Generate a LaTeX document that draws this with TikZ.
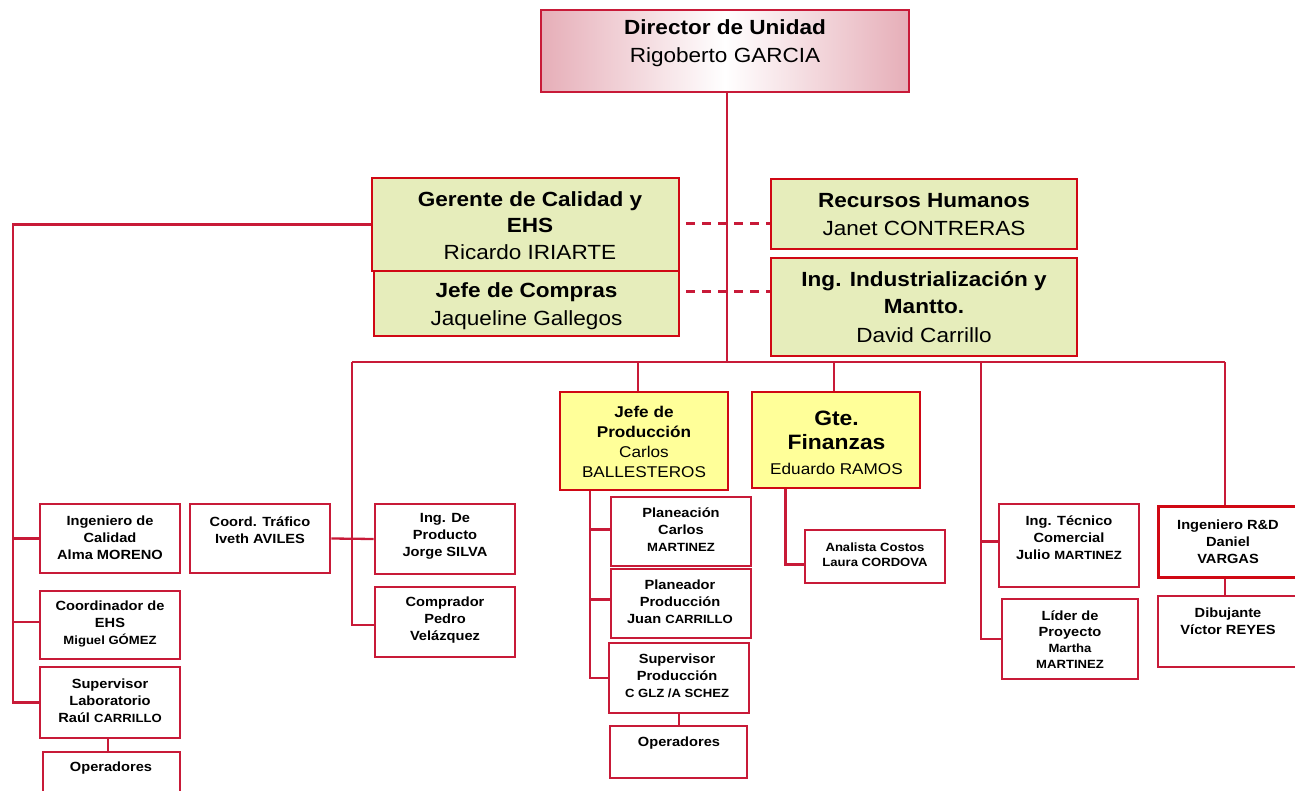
\documentclass[tikz,border=0pt]{standalone}
\usepackage{fontspec}
\setmainfont{Liberation Sans}[FakeStretch=1.1]
\usetikzlibrary{fit}
\definecolor{crim}{RGB}{200,26,56}
\definecolor{bred}{RGB}{208,8,20}
\definecolor{grn}{RGB}{230,237,187}
\definecolor{yel}{RGB}{255,255,153}
\definecolor{dpink}{RGB}{230,174,184}
\begin{document}
\begin{tikzpicture}[x=1pt,y=-1pt,
 lbox/.style={draw=crim, line width=2.7pt, fill=white, inner sep=0pt},
 rbox/.style={draw=bred, line width=3pt, fill=white, inner sep=0pt},
 gbox/.style={draw=bred, line width=2.9pt, fill=grn, inner sep=0pt},
 ybox/.style={draw=bred, line width=2.9pt, fill=yel, inner sep=0pt},
 dbox/.style={draw=crim, line width=2.7pt, left color=dpink, right color=dpink, middle color=white, inner sep=0pt},
 conn/.style={draw=crim, line width=2.3pt},
 dconn/.style={draw=crim, line width=2.3pt, dash pattern=on 9pt off 7pt},
 big/.style={align=center, inner sep=0pt, font=\fontsize{20.5}{26.5}\selectfont},
 mid/.style={align=center, inner sep=0pt, font=\fontsize{15.6}{20}\selectfont},
 sm/.style={align=center, inner sep=0pt, font=\bfseries\fontsize{13.3}{17}\selectfont},
]
\useasboundingbox (0,0) rectangle (1295,791);
\newcommand\smf{\fontsize{11.9}{17}\selectfont}
% top level
\node[dbox, fit={(541,10) (909,92)}] (dir) {};
\node[big] (dir-t) at (725,43.5) {\textbf{Director de Unidad}\\[1.8pt]Rigoberto GARCIA};
\node[gbox, fit={(372,178) (679,271)}] (ger) {};
\node[big] (ger-t) at (530,225.2) {\textbf{Gerente de Calidad y}\\\textbf{EHS}\\Ricardo IRIARTE};
\node[gbox, fit={(374,271) (679,336)}] (jc) {};
\node[big] (jc-t) at (526.5,306.3) {\textbf{Jefe de Compras}\\[0.8pt]Jaqueline Gallegos};
\node[gbox, fit={(771,179) (1077,249)}] (rh) {};
\node[big] (rh-t) at (924,214.5) {\textbf{Recursos Humanos}\\[1pt]Janet CONTRERAS};
\node[gbox, fit={(771,258) (1077,356)}] (ii) {};
\node[big] (ii-t) at (924,307) {\textbf{Ing. Industrialización y}\\\textbf{Mantto.}\\[2.5pt]David Carrillo};
% second level
\node[ybox, fit={(560,392) (728,490)}] (jp) {};
\node[mid] (jp-t) at (644,442.3) {\textbf{Jefe de}\\\textbf{Producción}\\Carlos\\BALLESTEROS};
\node[ybox, fit={(752,392) (920,488)}] (gf) {};
\node[align=center, inner sep=0pt, font=\fontsize{20.8}{24.5}\selectfont] (gf-t) at (836.5,442.5) {\textbf{Gte.}\\\textbf{Finanzas}\\{\fontsize{15.6}{24.5}\selectfont Eduardo RAMOS}};
% left column
\node[lbox, fit={(40,504) (180,573)}] (ingcal) {};
\node[sm] (ingcal-t) at (110,538) {Ingeniero de\\Calidad\\Alma MORENO};
\node[lbox, fit={(40,591) (180,659)}] (coordehs) {};
\node[sm] (coordehs-t) at (110,624.2) {Coordinador de\\EHS\\{\smf Miguel GÓMEZ}};
\node[lbox, fit={(40,667) (180,738)}] (suplab) {};
\node[sm] (suplab-t) at (110,700.5) {Supervisor\\Laboratorio\\Raúl {\smf CARRILLO}};
\node[lbox, fit={(43,752) (180,800)}] (oplab) {};
\node[sm] (oplab-t) at (111,768.3) {Operadores};
\node[lbox, fit={(190,504) (330,573)}] (traf) {};
\node[sm] (traf-t) at (260,530) {Coord. Tráfico\\Iveth AVILES};
\node[lbox, fit={(375,504) (515,574)}] (ingprod) {};
\node[sm] (ingprod-t) at (445,536.7) {Ing. De\\Producto\\Jorge SILVA};
\node[lbox, fit={(375,587) (515,657)}] (comp) {};
\node[sm] (comp-t) at (445,620.5) {Comprador\\Pedro\\Velázquez};
% production
\node[lbox, fit={(611,497) (751,566)}] (plan) {};
\node[sm] (plan-t) at (681,530) {Planeación\\Carlos\\{\smf MARTINEZ}};
\node[lbox, fit={(611,569) (751,638)}] (plandor) {};
\node[sm] (plandor-t) at (680,602) {Planeador\\Producción\\Juan {\smf CARRILLO}};
\node[lbox, fit={(609,643) (749,713)}] (supprod) {};
\node[sm] (supprod-t) at (677,675.5) {Supervisor\\Producción\\{\smf C GLZ /A SCHEZ}};
\node[lbox, fit={(610,726) (747,778)}] (opprod) {};
\node[sm] (opprod-t) at (679,743) {Operadores};
% finance
\node[lbox, fit={(805,530) (945,583)}] (an) {};
\node[align=center, inner sep=0pt, font=\bfseries\fontsize{11.9}{15.5}\selectfont] (an-t) at (875,554.5) {Analista Costos\\Laura CORDOVA};
% right
\node[lbox, fit={(999,504) (1139,587)}] (ingtec) {};
\node[sm] (ingtec-t) at (1069,537.5) {Ing. Técnico\\Comercial\\Julio {\smf MARTINEZ}};
\node[lbox, fit={(1002,599) (1138,679)}] (lider) {};
\node[sm, font=\bfseries\fontsize{13.3}{16}\selectfont] (lider-t) at (1070,639.5) {Líder de\\Proyecto\\{\smf Martha}\\{\smf MARTINEZ}};
\node[rbox, fit={(1158,506) (1302,577)}] (rd) {};
\node[sm] (rd-t) at (1228,541.5) {Ingeniero R\&D\\Daniel\\VARGAS};
\node[lbox, fit={(1158,596) (1302,667)}] (dib) {};
\node[sm] (dib-t) at (1228,621) {Dibujante\\Víctor REYES};
% connectors
\coordinate (dd) at (727,362);
\coordinate (busL) at (352,362);
\coordinate (busR) at (1225,362);
\coordinate (b5) at (981,362);
\coordinate (lx) at (13,0);
\coordinate (jx) at (590,0);
\draw[conn] (dir.south -| dd) -- (dd);
\draw[conn] (busL) -- (busR);
\draw[conn] (busL) |- ([yshift=-3pt]comp.west);
\draw[conn] (traf.east) -- (ingprod.west);
\draw[conn] ([xshift=-6pt]jp.north) -- ([xshift=-6pt]jp.north |- busL);
\draw[conn] ([xshift=-2pt]gf.north) -- ([xshift=-2pt]gf.north |- busL);
\draw[conn] (b5) |- (lider.west);
\draw[conn] ([yshift=4pt]ingtec.west) -- ([yshift=4pt]ingtec.west -| b5);
\draw[conn] (busR) -- (busR |- rd.north);
\draw[conn] (rd.south -| busR) -- (busR |- dib.north);
\draw[conn] (ger.west) -| (lx |- suplab.west) -- (suplab.west);
\draw[conn] (lx |- ingcal.west) -- (ingcal.west);
\draw[conn] ([yshift=3pt]lx |- coordehs.west) -- ([yshift=3pt]coordehs.west);
\draw[conn] ([xshift=-2pt]suplab.south) -- ([xshift=-2pt]suplab.south |- oplab.north);
\draw[conn] (jx |- jp.south) |- (supprod.west);
\draw[conn] ([yshift=2pt]jx |- plan.west) -- ([yshift=2pt]plan.west);
\draw[conn] ([yshift=4pt]jx |- plandor.west) -- ([yshift=4pt]plandor.west);
\draw[conn] (supprod.south) -- (supprod.south |- opprod.north);
\draw[conn] ([xshift=-50.5pt]gf.south) |- ([yshift=-8pt]an.west);
\draw[dconn] ([xshift=6pt,yshift=1pt]ger.east) -- ([yshift=1pt]ger.east -| rh.west);
\draw[dconn] ([xshift=6pt,yshift=12pt]jc.east) -- ([yshift=12pt]jc.east -| ii.west);
\end{tikzpicture}
\end{document}
